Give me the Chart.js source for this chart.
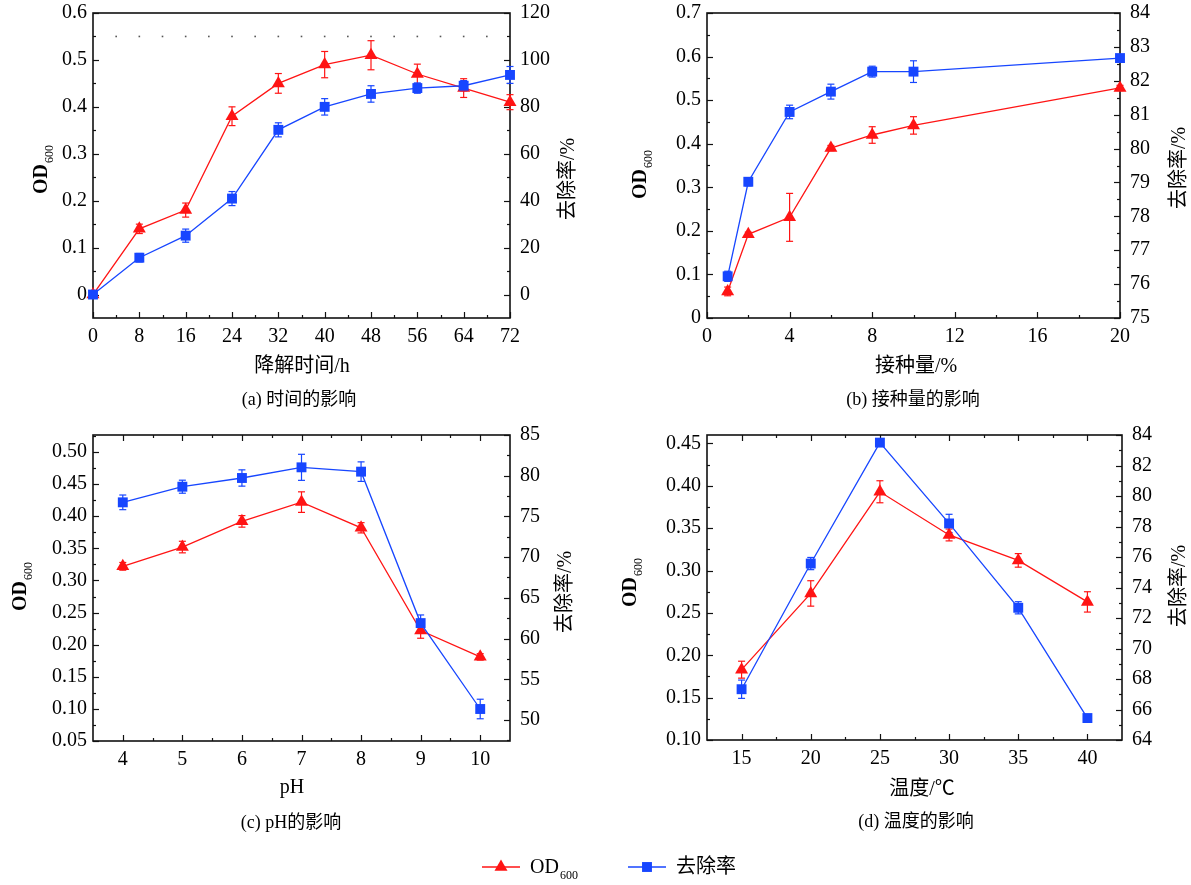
<!DOCTYPE html>
<html><head><meta charset="utf-8">
<script src="https://cdn.jsdelivr.net/npm/chart.js@4.4.1/dist/chart.umd.min.js"></script>
<style>
body{margin:0;background:#fff;width:1191px;height:885px;overflow:hidden;position:relative}
canvas{position:absolute;left:0;top:0}
</style></head><body>
<canvas id="ca" width="1191" height="885"></canvas>
<canvas id="cb" width="1191" height="885"></canvas>
<canvas id="cc" width="1191" height="885"></canvas>
<canvas id="cd" width="1191" height="885"></canvas>
<script>
// ---- (a) time ----
const timeH = [0, 8, 16, 24, 32, 40, 48, 56, 64, 72];
const odTime = [0, 0.14, 0.18, 0.38, 0.45, 0.49, 0.51, 0.47, 0.44, 0.41];
const odTimeErr = [0.005, 0.01, 0.015, 0.02, 0.021, 0.028, 0.031, 0.021, 0.02, 0.016];
const remTime = [0, 15.7, 25.1, 40.9, 70.2, 80.0, 85.5, 88.0, 89.0, 93.6];
const remTimeErr = [0, 1.8, 2.8, 3.0, 3.0, 3.5, 3.5, 2.2, 2.2, 3.6];
// ---- (b) inoculum ----
const inoc = [1, 2, 4, 6, 8, 10, 20];
const odInoc = [0.061, 0.192, 0.231, 0.39, 0.42, 0.442, 0.528];
const odInocErr = [0.01, 0.005, 0.055, 0.006, 0.019, 0.02, 0.006];
const remInoc = [76.23, 79.02, 81.08, 81.68, 82.27, 82.27, 82.67];
const remInocErr = [0.15, 0.12, 0.2, 0.22, 0.16, 0.32, 0];
// ---- (c) pH ----
const pHs = [4, 5, 6, 7, 8, 9, 10];
const odPH = [0.322, 0.352, 0.392, 0.422, 0.382, 0.222, 0.181];
const odPHErr = [0.006, 0.009, 0.009, 0.016, 0.008, 0.012, 0.005];
const remPH = [76.73, 78.65, 79.72, 81.03, 80.5, 61.9, 51.35];
const remPHErr = [0.9, 0.8, 1.0, 1.6, 1.2, 1.0, 1.2];
// ---- (d) temperature ----
const temps = [15, 20, 25, 30, 35, 40];
const odTemp = [0.183, 0.273, 0.393, 0.342, 0.312, 0.263];
const odTempErr = [0.01, 0.015, 0.013, 0.007, 0.008, 0.012];
const remTemp = [67.33, 75.57, 83.5, 78.2, 72.67, 65.44];
const remTempErr = [0.6, 0.4, 0, 0.6, 0.4, 0];
// ---- tick values ----
const tA_x = [0, 8, 16, 24, 32, 40, 48, 56, 64, 72];
const tA_y = [0, 0.1, 0.2, 0.3, 0.4, 0.5, 0.6];
const tA_y1 = [0, 20, 40, 60, 80, 100, 120];
const tB_x = [0, 4, 8, 12, 16, 20];
const tB_y = [0, 0.1, 0.2, 0.3, 0.4, 0.5, 0.6, 0.7];
const tB_y1 = [75, 76, 77, 78, 79, 80, 81, 82, 83, 84];
const tC_x = [4, 5, 6, 7, 8, 9, 10];
const tC_y = [0.05, 0.10, 0.15, 0.20, 0.25, 0.30, 0.35, 0.40, 0.45, 0.50];
const tC_y1 = [50, 55, 60, 65, 70, 75, 80, 85];
const tD_x = [15, 20, 25, 30, 35, 40];
const tD_y = [0.10, 0.15, 0.20, 0.25, 0.30, 0.35, 0.40, 0.45];
const tD_y1 = [64, 66, 68, 70, 72, 74, 76, 78, 80, 82, 84];
// ---- text ----
const seriesNames = ['OD', '去除率'];
const xTitles = ['降解时间/h', '接种量/%', 'pH', '温度/℃'];
const captions = ['(a) 时间的影响', '(b) 接种量的影响', '(c) pH的影响', '(d) 温度的影响'];
const rightTitle = '去除率/%';

const RED = '#ff1414', BLUE = '#1746ff';
const SERIF = "'Liberation Serif','Times New Roman',serif";
const MIX = "'Liberation Serif','Noto Sans CJK SC',serif";
const TICKFONT = {family: SERIF, size: 20};

function minorsOf(major, min, max) {
  const step = major[1] - major[0];
  const out = [];
  for (let k = -1; k <= major.length; k++) {
    const v = major[0] + step * (k + 0.5);
    if (v > min + 1e-9 && v < max - 1e-9) out.push(v);
  }
  return out;
}

function drawOD(ctx, cx, cy, rotate, boldOD) {
  ctx.save();
  ctx.translate(cx, cy);
  if (rotate) ctx.rotate(-Math.PI / 2);
  ctx.fillStyle = '#000';
  ctx.textBaseline = 'middle';
  ctx.textAlign = 'left';
  const f1 = (boldOD ? 'bold ' : '') + '20px ' + SERIF;
  const f2 = '12px ' + SERIF;
  ctx.font = f1; const w1 = ctx.measureText(seriesNames[0]).width;
  ctx.font = f2; const w2 = ctx.measureText('600').width;
  const x0 = rotate ? -(w1 + w2) / 2 : 0;
  ctx.font = f1; ctx.fillText(seriesNames[0], x0, 0);
  ctx.font = f2; ctx.fillText('600', x0 + w1 + 1, 8);
  ctx.restore();
}

function makeDecor(cfg) {
  return {
    id: 'decor',
    beforeDatasetsDraw(chart) {
      const ctx = chart.ctx;
      const a = chart.chartArea;
      const xs = chart.scales.x, ys = chart.scales.y, y1 = chart.scales.y1;
      ctx.save();
      ctx.strokeStyle = '#111';
      ctx.lineWidth = 1.6;
      ctx.strokeRect(a.left, a.top, a.right - a.left, a.bottom - a.top);
      ctx.lineWidth = 1.2;
      const tick = (x1, yA, x2, yB) => { ctx.beginPath(); ctx.moveTo(x1, yA); ctx.lineTo(x2, yB); ctx.stroke(); };
      const xMaj = cfg.xTicks, xMin = minorsOf(cfg.xTicks, xs.min, xs.max);
      [[xMaj, 6], [xMin, 3]].forEach(([vals, len]) => vals.forEach(v => {
        const px = Math.round(xs.getPixelForValue(v)) + 0.5;
        tick(px, a.bottom, px, a.bottom - len);
        if (cfg.topTicks) tick(px, a.top, px, a.top + len);
      }));
      [[cfg.yTicks, 6], [minorsOf(cfg.yTicks, ys.min, ys.max), 3]].forEach(([vals, len]) => vals.forEach(v => {
        const py = Math.round(ys.getPixelForValue(v)) + 0.5;
        tick(a.left, py, a.left + len, py);
      }));
      [[cfg.y1Ticks, 6], [minorsOf(cfg.y1Ticks, y1.min, y1.max), 3]].forEach(([vals, len]) => vals.forEach(v => {
        const py = Math.round(y1.getPixelForValue(v)) + 0.5;
        tick(a.right, py, a.right - len, py);
      }));
      if (cfg.dots) {
        ctx.fillStyle = '#555';
        const all = xMaj.concat(xMin).filter(v => v > xs.min && v < xs.max);
        all.forEach(v => {
          const px = xs.getPixelForValue(v), py = ys.getPixelForValue(cfg.dots);
          ctx.fillRect(px - 0.8, py - 0.8, 1.6, 1.6);
        });
      }
      // error bars
      chart.data.datasets.forEach((ds, i) => {
        const meta = chart.getDatasetMeta(i);
        const sc = chart.scales[ds.yAxisID];
        ctx.strokeStyle = ds.borderColor;
        ctx.lineWidth = 1.2;
        ds.data.forEach((p, j) => {
          const e = ds.errors[j];
          if (!e) return;
          const x = meta.data[j].x;
          const yT = sc.getPixelForValue(p.y + e), yB = sc.getPixelForValue(p.y - e);
          tick(x, yT, x, yB);
          tick(x - 3.5, yT, x + 3.5, yT);
          tick(x - 3.5, yB, x + 3.5, yB);
        });
      });
      ctx.restore();
    },
    afterDraw(chart) {
      const ctx = chart.ctx;
      ctx.save();
      ctx.fillStyle = '#000';
      ctx.textAlign = 'center';
      ctx.textBaseline = 'middle';
      ctx.font = '20px ' + MIX;
      ctx.fillText(cfg.xTitle, cfg.xTitlePos[0], cfg.xTitlePos[1]);
      ctx.font = '18px ' + MIX;
      ctx.fillText(cfg.caption, cfg.capPos[0], cfg.capPos[1]);
      ctx.save();
      ctx.translate(cfg.remPos[0], cfg.remPos[1]);
      ctx.rotate(-Math.PI / 2);
      ctx.font = '20px ' + MIX;
      ctx.fillText(rightTitle, 0, 0);
      ctx.restore();
      drawOD(ctx, cfg.odPos[0], cfg.odPos[1], true, true);
      if (cfg.legend) {
        const dsR = chart.data.datasets[0], dsB = chart.data.datasets[1];
        const items = [[dsR, 482, 'od'], [dsB, 628, seriesNames[1]]];
        items.forEach(([ds, x0, txt]) => {
          const y = 867;
          ctx.strokeStyle = ds.borderColor; ctx.fillStyle = ds.backgroundColor;
          ctx.lineWidth = 1.5;
          ctx.beginPath(); ctx.moveTo(x0, y); ctx.lineTo(x0 + 38, y); ctx.stroke();
          Chart.helpers.drawPoint(ctx, {pointStyle: ds.pointStyle, radius: ds.pointRadius, rotation: 0, borderWidth: 0}, x0 + 19, y);
          ctx.fillStyle = '#000';
          if (txt === 'od') {
            drawOD(ctx, x0 + 48, y + 1, false, false);
          } else {
            ctx.textAlign = 'left';
            ctx.font = '20px ' + MIX;
            ctx.fillText(txt, x0 + 48, y + 1);
          }
        });
      }
      ctx.restore();
    }
  };
}

function makeChart(id, cfg) {
  const [L, T, R, B] = cfg.area;
  const WL = 80, WR = 80, HX = 40;
  const mk = (vals) => (s) => { s.ticks = vals.map(v => ({value: v})); };
  const common = {
    grid: {display: false, drawTicks: false},
    border: {display: false},
  };
  const fitV = (w) => (s) => { s.width = w; s.paddingTop = 0; s.paddingBottom = 0; };
  const fitH = (h) => (s) => { s.height = h; s.paddingLeft = 0; s.paddingRight = 0; };
  return new Chart(document.getElementById(id), {
    type: 'line',
    data: {datasets: [
      {label: 'OD600', data: cfg.x.map((x, i) => ({x: x, y: cfg.od[i]})), errors: cfg.odErr,
       yAxisID: 'y', borderColor: RED, backgroundColor: RED, pointStyle: 'triangle', pointRadius: 7.5,
       pointBorderWidth: 0, borderWidth: 1.3, tension: 0, order: 1, clip: false},
      {label: '去除率', data: cfg.x.map((x, i) => ({x: x, y: cfg.rem[i]})), errors: cfg.remErr,
       yAxisID: 'y1', borderColor: BLUE, backgroundColor: BLUE, pointStyle: 'rect', pointRadius: 7,
       pointBorderWidth: 0, borderWidth: 1.3, tension: 0, order: 0, clip: false}
    ]},
    options: {
      responsive: false, animation: false, events: [],
      layout: {padding: {left: L - WL, right: 1191 - R - WR, top: T, bottom: 885 - B - HX}},
      plugins: {legend: {display: false}, tooltip: {enabled: false}},
      scales: {
        x: Object.assign({type: 'linear', position: 'bottom', min: cfg.xr[0], max: cfg.xr[1],
          afterFit: fitH(HX), afterBuildTicks: mk(cfg.xTicks),
          ticks: {padding: 7, font: TICKFONT, color: '#000', maxRotation: 0, autoSkip: false,
            callback: v => String(v)}}, common),
        y: Object.assign({type: 'linear', position: 'left', min: cfg.yr[0], max: cfg.yr[1],
          afterFit: fitV(WL), afterBuildTicks: mk(cfg.yTicks),
          ticks: {padding: 6, font: TICKFONT, color: '#000', autoSkip: false, callback: cfg.yFmt}}, common),
        y1: Object.assign({type: 'linear', position: 'right', min: cfg.y1r[0], max: cfg.y1r[1],
          afterFit: fitV(WR), afterBuildTicks: mk(cfg.y1Ticks),
          ticks: {padding: 10, font: TICKFONT, color: '#000', autoSkip: false, callback: v => String(v)}}, common)
      }
    },
    plugins: [makeDecor(cfg)]
  });
}

const fmt1 = v => (v === 0 ? '0' : v.toFixed(1));
const fmt2 = v => v.toFixed(2);

makeChart('ca', {area: [93, 13, 510, 318], x: timeH, od: odTime, odErr: odTimeErr, rem: remTime, remErr: remTimeErr,
  xr: [0, 72], yr: [-0.05, 0.6], y1r: [-10, 120], xTicks: tA_x, yTicks: tA_y, y1Ticks: tA_y1, yFmt: fmt1,
  dots: 0.55, topTicks: false, xTitle: xTitles[0], xTitlePos: [302, 367], caption: captions[0], capPos: [299, 400],
  odPos: [42, 170], remPos: [569, 179]});
makeChart('cb', {area: [707, 13, 1120, 318], x: inoc, od: odInoc, odErr: odInocErr, rem: remInoc, remErr: remInocErr,
  xr: [0, 20], yr: [0, 0.7], y1r: [75, 84], xTicks: tB_x, yTicks: tB_y, y1Ticks: tB_y1, yFmt: fmt1,
  topTicks: false, xTitle: xTitles[1], xTitlePos: [916, 367], caption: captions[1], capPos: [913, 400],
  odPos: [641, 175], remPos: [1180, 168]});
makeChart('cc', {area: [93, 435, 510, 741], x: pHs, od: odPH, odErr: odPHErr, rem: remPH, remErr: remPHErr,
  xr: [3.5, 10.5], yr: [0.05, 0.5265], y1r: [47.42, 85], xTicks: tC_x, yTicks: tC_y, y1Ticks: tC_y1, yFmt: fmt2,
  topTicks: true, xTitle: xTitles[2], xTitlePos: [292, 788], caption: captions[2], capPos: [291, 823],
  odPos: [21, 587], remPos: [566, 592]});
makeChart('cd', {area: [707, 435, 1122, 740], x: temps, od: odTemp, odErr: odTempErr, rem: remTemp, remErr: remTempErr,
  xr: [12.5, 42.5], yr: [0.10, 0.46], y1r: [64, 84], xTicks: tD_x, yTicks: tD_y, y1Ticks: tD_y1, yFmt: fmt2,
  topTicks: true, xTitle: xTitles[3], xTitlePos: [922, 790], caption: captions[3], capPos: [916, 822],
  odPos: [631, 583], remPos: [1180, 586], legend: true});
</script>
</body></html>
